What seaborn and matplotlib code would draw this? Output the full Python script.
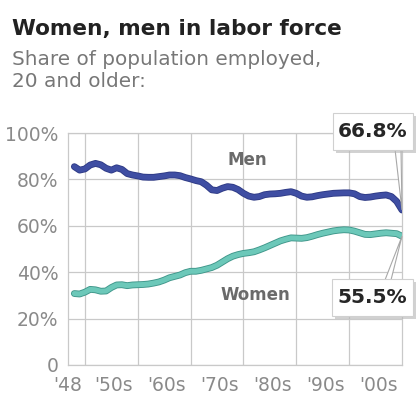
import numpy as np
import pandas as pd
import matplotlib
matplotlib.use("Agg")
import matplotlib.pyplot as plt
import matplotlib.patheffects as pe
from matplotlib.patches import Polygon
import seaborn as sns

# ---------------- data ----------------
years = list(range(1948, 2011))
men = [85.5, 84.0, 84.5, 86.2, 86.9, 86.3, 84.8, 84.0, 85.0, 84.3,
       82.5, 81.9, 81.5, 81.0, 80.9, 80.9, 81.2, 81.5, 81.9, 81.9,
       81.6, 80.8, 80.2, 79.5, 79.0, 77.5, 75.5, 75.2, 76.2, 76.9,
       76.6, 75.6, 74.0, 72.8, 72.3, 72.6, 73.4, 73.7, 73.8, 74.0,
       74.4, 74.7, 74.0, 72.8, 72.3, 72.5, 73.0, 73.4, 73.7, 74.0,
       74.1, 74.2, 74.2, 73.8, 72.6, 72.2, 72.4, 72.8, 73.1, 73.3,
       72.6, 70.5, 66.8]
women = [30.8, 30.6, 31.4, 32.6, 32.4, 31.8, 31.9, 33.4, 34.5, 34.6,
         34.2, 34.5, 34.6, 34.7, 34.9, 35.3, 35.8, 36.6, 37.6, 38.2,
         38.8, 39.8, 40.4, 40.4, 40.8, 41.4, 42.0, 43.0, 44.4, 45.8,
         46.9, 47.6, 48.1, 48.4, 48.8, 49.6, 50.5, 51.5, 52.5, 53.5,
         54.2, 54.8, 54.7, 54.6, 54.9, 55.5, 56.2, 56.8, 57.3, 57.8,
         58.1, 58.3, 58.2, 57.7, 57.0, 56.3, 56.2, 56.5, 56.8, 57.0,
         56.8, 56.6, 55.5]
series_names = ["Men", "Women"]
x_tick_labels = ["'48", "'50s", "'60s", "'70s", "'80s", "'90s", "'00s"]
y_ticks = [0, 20, 40, 60, 80, 100]
y_tick_labels = ["0", "20%", "40%", "60%", "80%", "100%"]
title = "Women, men in labor force"
subtitle = ["Share of population employed,", "20 and older:"]
end_labels = ["66.8%", "55.5%"]

df = pd.DataFrame({
    "year": years * 2,
    "value": men + women,
    "group": [series_names[0]] * len(years) + [series_names[1]] * len(years),
})

# ---------------- figure ----------------
sns.set_style("white")
plt.rcParams["font.family"] = ["DejaVu Sans"]

W, H = 417, 398
fig = plt.figure(figsize=(W / 100, H / 100), dpi=100)
ax = fig.add_axes([68 / W, 1 - 365 / H, (402 - 68) / W, (365 - 133) / H])

colors = {"Men": "#3f4ea3", "Women": "#6cc8b9"}
edges = {"Men": "#2f3b86", "Women": "#3f968a"}

sns.lineplot(data=df, x="year", y="value", hue="group", palette=colors,
             linewidth=3.6, legend=False, ax=ax, zorder=3,
             solid_capstyle="round", solid_joinstyle="round")
for line, name in zip(ax.get_lines(), series_names):
    line.set_path_effects([pe.Stroke(linewidth=4.9, foreground=edges[name]),
                           pe.Normal()])

ax.set_xlim(years[0], years[-1])
ax.set_ylim(0, 100)

grid_c = "#c9c9c9"
ax.set_yticks(y_ticks)
ax.set_yticklabels(y_tick_labels)
decades = [1950, 1960, 1970, 1980, 1990, 2000]
ax.set_xticks(decades)
ax.set_xticklabels([""] * len(decades))
label_pos = [1946.8] + [d + 5.5 for d in decades]
ax.set_xticks(label_pos, minor=True)
ax.set_xticklabels(x_tick_labels, minor=True)
ax.grid(True, which="major", color=grid_c, linewidth=0.9)
ax.tick_params(axis="both", which="both", length=0, colors="#8a8a8a",
               labelsize=13.5)
ax.tick_params(axis="y", pad=7)
ax.tick_params(axis="x", which="minor", pad=8)
for s in ax.spines.values():
    s.set_color(grid_c)
    s.set_linewidth(0.9)
ax.set_xlabel("")
ax.set_ylabel("")

# series labels
ax.text(1980.8, 88.4, "Men", ha="center", va="center", fontsize=12,
        fontweight="bold", color="#6a6a6a", zorder=4)
ax.text(1982.3, 30.2, "Women", ha="center", va="center", fontsize=12,
        fontweight="bold", color="#6a6a6a", zorder=4)

# title & subtitle
fig.text(12 / W, 1 - 35 / H, title, fontsize=15.6, fontweight="bold",
         color="#222222", va="baseline", ha="left")
fig.text(12 / W, 1 - 65 / H, subtitle[0], fontsize=14.4, color="#777777",
         va="baseline", ha="left")
fig.text(12 / W, 1 - 87 / H, subtitle[1], fontsize=14.4, color="#777777",
         va="baseline", ha="left")

# end-value callouts
fig.canvas.draw()
inv = fig.transFigure.inverted()


def px(xp, yp):
    return (xp / W, 1 - yp / H)


def callout(text, box, base, series_vals):
    x0, y0, x1, y1 = box  # pixel coords (top-left origin)
    tip_disp = ax.transData.transform((years[-1], series_vals[-1]))
    tip = inv.transform(tip_disp)
    poly = Polygon([px(*base[0]), tip, px(*base[1])], closed=True,
                   transform=fig.transFigure, facecolor="white",
                   edgecolor="#a8a8a8", linewidth=0.8, zorder=5)
    fig.add_artist(poly)
    sh = plt.Rectangle(px(x0 + 3, y1 + 3), (x1 - x0) / W, (y1 - y0) / H,
                       transform=fig.transFigure, facecolor="#b5b5b5",
                       edgecolor="none", alpha=0.6, zorder=5.5)
    fig.add_artist(sh)
    rect = plt.Rectangle(px(x0, y1), (x1 - x0) / W, (y1 - y0) / H,
                         transform=fig.transFigure, facecolor="white",
                         edgecolor="#d0d0d0", linewidth=0.8, zorder=6)
    fig.add_artist(rect)
    fig.text((x0 + x1) / 2 / W, 1 - (y0 + y1) / 2 / H, text, ha="center",
             va="center", fontsize=14.5, fontweight="bold", color="#262626",
             zorder=7)


callout(end_labels[0], (333, 113, 413, 150), [(395, 149), (401, 149)], men)
callout(end_labels[1], (332, 279, 413, 316), [(385, 280), (391, 280)], women)

fig.savefig("out.png", dpi=100, facecolor="white")
